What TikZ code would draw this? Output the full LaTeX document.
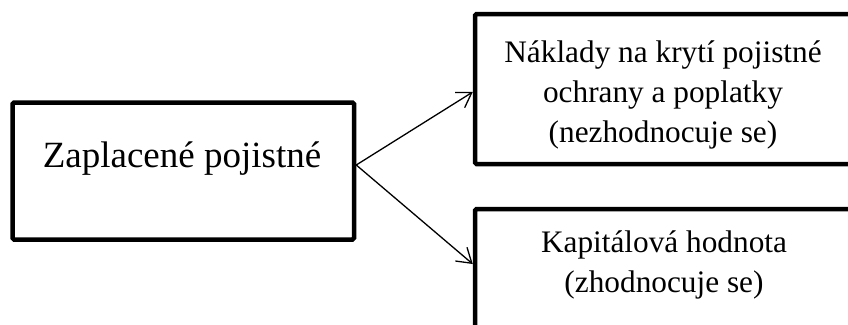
\documentclass[tikz,border=0pt]{standalone}
\usepackage{fontspec}
\setmainfont{Liberation Serif}
\usetikzlibrary{arrows.meta}
\begin{document}
\begin{tikzpicture}[x=1pt,y=-1pt,
  box/.style={draw=black, line width=4.5pt, rounded corners=1.5pt, inner sep=0pt},
  bigtext/.style={anchor=base, inner sep=0pt, font=\fontsize{37}{44}\selectfont},
  smalltext/.style={anchor=base, inner sep=0pt, font=\fontsize{31.3}{40}\selectfont},
  conn/.style={line width=1.3pt, -{Straight Barb[length=14pt,width=18pt,line width=1.3pt]}}]
\useasboundingbox (0,0) rectangle (848,324);
\clip (0,0) rectangle (848,324);
\fill[white] (0,0) rectangle (848,324);
% boxes
\node[box, minimum width=341.5pt, minimum height=137pt] (pay) at (183.25,171) {};
\node[box, minimum width=377pt, minimum height=150pt] (cost) at (663.5,89) {};
\node[box, minimum width=377pt, minimum height=131pt] (cap) at (663.5,274.5) {};
% texts
\node[bigtext] (t0) at (182,167) {Zaplacené pojistné};
\node[smalltext] (t1) at (663,62) {Náklady na krytí pojistné};
\node[smalltext] (t2) at (663,102) {ochrany a poplatky};
\node[smalltext] (t3) at (663,142) {(nezhodnocuje se)};
\node[smalltext] (t4) at (664,252) {Kapitálová hodnota};
\node[smalltext] (t5) at (664,292) {(zhodnocuje se)};
% connectors
\draw[conn] ([yshift=6pt]pay.east) -- ([yshift=-3pt]cost.west);
\draw[conn] ([yshift=6pt]pay.east) -- ([yshift=10.5pt]cap.west);
\end{tikzpicture}
\end{document}
